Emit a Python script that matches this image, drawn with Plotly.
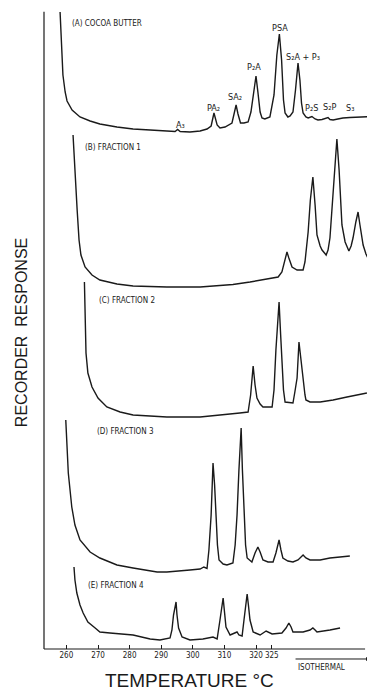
import plotly.graph_objects as go

# ---- axis ticks ----
tick_vals = [260, 270, 280, 290, 300, 310, 320, 325]
tick_text = ["260", "270", "280", "290", "300", "310", "320", "325"]

# ---- (A) cocoa butter: temperature (°C, isothermal beyond 325) and response ----
temp_a = [258.0, 258.4, 258.9, 259.6, 260.2, 261.8, 264.3, 267.5, 270.6, 276.0, 281.1, 286.5, 291.8, 294.4,
          295.2, 296.0, 299.1, 302.3, 304.5, 305.8, 306.7, 307.7, 308.6, 310.2, 312.4, 313.2, 313.7, 314.3,
          315.1, 316.2, 317.5, 318.4, 319.4, 320.0, 320.6, 321.3, 321.9, 322.8, 324.4, 325.7, 326.6, 327.4,
          328.1, 328.7, 329.2, 330.1, 330.8, 331.7, 332.5, 333.3, 333.9, 334.4, 334.9, 335.8, 336.5, 337.7,
          338.7, 339.6, 340.9, 342.2, 342.8, 343.4, 344.4, 345.9, 347.5, 349.7, 353.9, 357.7]
resp_a = [120, 87, 57, 40, 31, 22, 15, 11, 8, 5, 3, 2, 1, 0.5,
          2.5, 0.5, 0, 1, 3, 6, 19, 7, 4, 5, 9, 19, 27, 18,
          9, 9, 10, 20, 42, 56, 40, 20, 14, 13, 15, 37, 77, 98,
          72, 32, 19, 15, 16, 20, 42, 69, 52, 29, 19, 15, 14, 15.5,
          13, 12, 12.5, 13.5, 14.5, 12.5, 12, 13, 14, 14.5, 15, 15.5]

# ---- (B) fraction 1 ----
temp_b = [262.1, 262.7, 263.4, 264.0, 264.6, 265.9, 268.1, 270.6, 276.0, 281.1, 291.8, 302.3, 312.7, 318.1,
          323.5, 327.0, 328.2, 329.2, 329.8, 330.4, 331.4, 333.0, 334.9, 335.5, 336.5, 337.2, 338.0, 338.7,
          339.3, 340.3, 340.9, 342.2, 342.8, 343.4, 344.4, 345.2, 345.6, 346.3, 347.2, 348.2, 348.8, 349.4,
          350.1, 350.7, 351.6, 352.3, 352.9, 353.9, 354.8, 355.4, 356.7, 357.7]
resp_b = [152, 112, 77, 47, 32, 20, 12, 7, 3, 1, 0, 0, 2.5, 5,
          8, 10, 15, 29, 35, 29, 20, 17, 17, 25, 55, 87, 110, 82,
          52, 41, 37, 32, 37, 49, 92, 132, 148, 117, 62, 45, 40, 36,
          41, 49, 65, 75, 62, 42, 33, 29, 24, 22]

# ---- (C) fraction 2 ----
temp_c = [265.7, 265.9, 266.2, 266.8, 268.1, 270.0, 272.8, 277.0, 281.1, 291.8, 302.3, 314.9, 317.5, 318.3,
          319.1, 319.7, 320.3, 321.3, 322.2, 325.1, 325.7, 326.3, 327.3, 327.8, 328.2, 328.7, 329.2, 330.8,
          331.7, 332.3, 333.0, 333.6, 334.2, 334.9, 335.5, 335.8, 337.1, 340.3, 344.4, 348.8, 352.0, 355.1]
resp_c = [135, 97, 64, 44, 30, 19, 10, 5, 2, 0, 0, 4, 5, 22,
          51, 32, 19, 13, 10, 10, 27, 67, 115, 82, 49, 27, 15, 14,
          14, 25, 39, 75, 57, 39, 22, 17, 15, 15, 17, 20, 22, 24]

# ---- (D) fraction 3 ----
temp_d = [259.8, 260.1, 260.6, 261.7, 262.7, 264.3, 267.5, 270.6, 276.0, 281.1, 288.7, 291.8, 296.9, 299.1,
          302.3, 302.9, 303.5, 304.5, 305.1, 305.8, 306.4, 306.9, 307.3, 307.8, 308.3, 309.6, 310.8, 312.7,
          313.4, 314.0, 314.6, 315.3, 315.7, 316.2, 316.7, 317.2, 318.7, 319.7, 320.6, 321.3, 322.2, 323.8,
          325.4, 326.3, 327.3, 327.9, 328.5, 330.1, 331.7, 333.3, 334.9, 335.8, 337.1, 340.3, 343.4, 346.6,
          349.7]
resp_d = [152, 132, 99, 65, 47, 32, 20, 14, 7, 4, 0, 0, 1, 2,
          3, 4, 5, 3.5, 22, 57, 109, 87, 57, 27, 12, 8, 7, 9,
          27, 57, 102, 144, 102, 57, 27, 14, 10, 19, 25, 20, 12, 10,
          10, 19, 32, 22, 14, 11, 10, 12, 17, 14, 12, 12, 14, 15,
          16]

# ---- (E) fraction 4 ----
temp_e = [262.4, 262.7, 263.3, 264.3, 265.3, 266.8, 269.1, 270.6, 273.8, 281.1, 286.5, 289.6, 292.8, 293.4,
          293.9, 294.7, 295.0, 295.5, 296.6, 299.1, 303.2, 306.4, 307.7, 308.1, 308.6, 309.6, 310.0, 310.5,
          311.8, 313.4, 314.0, 314.6, 315.6, 316.2, 317.2, 317.6, 318.1, 319.1, 321.3, 323.2, 325.1, 328.2,
          329.5, 330.4, 331.1, 331.7, 334.9, 337.1, 338.0, 338.7, 339.3, 343.4, 346.6]
resp_e = [73, 60, 47, 35, 27, 18, 12, 8, 7, 5, 1, 0, 2, 10,
          25, 38, 25, 12, 3, 0, 1, 3, 1, 8, 20, 42, 28, 13,
          5, 7, 8, 5, 4, 20, 46, 35, 20, 8, 5, 9, 6, 7,
          12, 17, 13, 8, 8, 10, 12, 10, 8, 10, 12]

trace_names = ["(A) COCOA BUTTER", "(B) FRACTION 1", "(C) FRACTION 2", "(D) FRACTION 3", "(E) FRACTION 4"]
trace_offset = [517, 362, 232, 77, 9]   # vertical stacking offsets of each recording

# peak labels of trace A
peak_labels = ["A\u2083", "PA\u2082", "SA\u2082", "P\u2082A", "PSA",
               "S\u2082A + P\u2083", "P\u2082S", "S\u2082P", "S\u2083"]
peak_label_temp = [296.0, 306.5, 313.4, 319.5, 327.6, 335.0, 337.6, 343.4, 349.7]
peak_label_resp = [7, 24, 35, 65, 104, 75, 24, 25, 24]

# panel label anchor (temperature, response above own baseline)
panel_label_temp = [261.1, 265.3, 269.7, 269.1, 266.2]
panel_label_resp = [109, 140, 117, 141, 55]

FONT = "Liberation Sans Narrow, DejaVu Sans Condensed, Liberation Sans, Arial, sans-serif"
INK = "#1a1a1a"

fig = go.Figure()
series = [(temp_a, resp_a), (temp_b, resp_b), (temp_c, resp_c), (temp_d, resp_d), (temp_e, resp_e)]
for (tx, ry), off, name in zip(series, trace_offset, trace_names):
    fig.add_trace(go.Scatter(x=tx, y=[v + off for v in ry], mode="lines", name=name,
                             line=dict(color=INK, width=1.4), showlegend=False, hoverinfo="skip"))

ann = []
for name, tx, ry, off in zip(trace_names, panel_label_temp, panel_label_resp, trace_offset):
    ann.append(dict(x=tx, y=ry + off, xref="x", yref="y", text=name.replace(" ", "\u00a0"),
                    showarrow=False, xanchor="left", yanchor="middle",
                    font=dict(family=FONT, size=8, color=INK)))
for txt, tx, ry in zip(peak_labels, peak_label_temp, peak_label_resp):
    ann.append(dict(x=tx, y=ry + trace_offset[0], xref="x", yref="y", text=txt, showarrow=False,
                    xanchor="center", yanchor="middle", font=dict(family=FONT, size=9, color=INK)))

ann.append(dict(x=0.44, y=-0.0484, xref="paper", yref="paper", text="TEMPERATURE \u00b0C",
                showarrow=False, xanchor="center", yanchor="middle",
                font=dict(family="Liberation Sans, Arial, sans-serif", size=19, color=INK)))
ann.append(dict(x=-0.066, y=0.493, xref="paper", yref="paper", text="RECORDER\u00a0\u00a0RESPONSE",
                textangle=-90, showarrow=False, xanchor="center", yanchor="middle",
                font=dict(family="Liberation Sans, Arial, sans-serif", size=16, color=INK)))
ann.append(dict(x=0.837, y=-0.0296, xref="paper", yref="paper", text="ISOTHERMAL",
                showarrow=False, xanchor="center", yanchor="middle",
                font=dict(family=FONT, size=8, color=INK)))
ann.append(dict(x=0.985, y=-0.0156, xref="paper", yref="paper", ax=-76, ay=0, text="",
                showarrow=True, arrowhead=2, arrowsize=0.8, arrowwidth=1, arrowcolor=INK))

shapes = [
    dict(type="line", xref="paper", yref="paper", x0=0, x1=0.97, y0=0, y1=0, line=dict(color=INK, width=1.2)),
    dict(type="line", xref="paper", yref="paper", x0=0, x1=0, y0=0, y1=0.994, line=dict(color=INK, width=1.2)),
]

fig.update_layout(
    width=367, height=682,
    margin=dict(l=36, r=0, t=0, b=41),
    paper_bgcolor="white", plot_bgcolor="white",
    annotations=ann, shapes=shapes,
    xaxis=dict(range=[252.91, 357.66], tickvals=tick_vals, ticktext=tick_text, ticks="inside",
               ticklen=4, tickcolor=INK, tickwidth=1, tickangle=0, showline=False, showgrid=False,
               zeroline=False, automargin=False,
               tickfont=dict(family=FONT, size=8, color=INK), fixedrange=True),
    yaxis=dict(range=[0, 641], visible=False, fixedrange=True),
)

fig.write_html("out.html")
